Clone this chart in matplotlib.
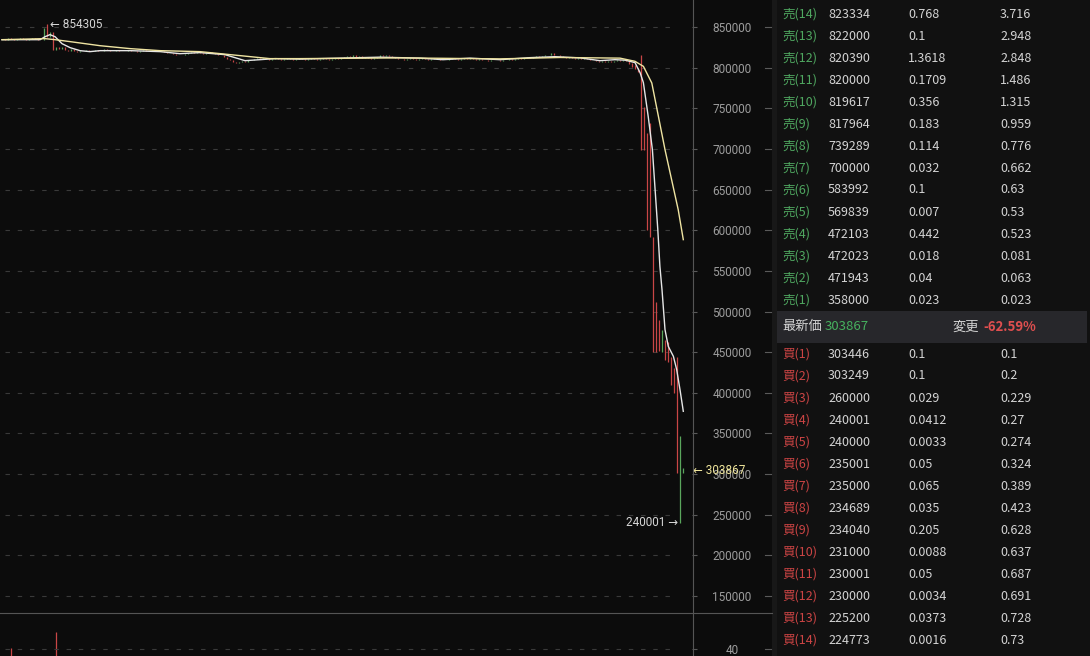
import numpy as np
import matplotlib.pyplot as plt
from matplotlib.lines import Line2D
from matplotlib.patches import Rectangle

W, H = 1090, 656

# closes in thousands, one candle per slot before the crash
flat_close = [835, 834, 836, 835, 834, 835, 837, 835, 834, 835, 836, 835, 834, 834, 849,
              838, 844, 822,
              826, 823, 825, 822, 820, 823, 821, 819, 821, 820, 822, 821,
              821, 822, 820, 821, 823, 822, 821, 820, 822, 821, 820, 821, 822, 821, 820, 819,
              821, 822, 820, 821, 822, 821, 820, 821, 819, 818,
              818, 817, 816, 815, 816, 817, 818, 819, 818, 819, 818, 817, 818, 819, 818, 817,
              816, 815, 813, 811, 809, 807, 806, 807, 808, 807, 809, 810, 811, 812, 811,
              812, 811, 810, 811, 812, 811, 810, 811, 812, 811, 810, 811, 812,
              811, 810, 811, 812, 811, 810, 811, 812, 811, 810, 811, 812, 811,
              812, 813, 814, 813, 815, 813, 814, 812, 813,
              812, 811, 812, 813, 815, 814, 816, 814, 813, 812, 811,
              811, 810, 811, 812, 811, 810, 811, 812, 811, 810, 811, 812, 811,
              810, 809, 810, 811, 812, 811, 810, 811, 812, 811, 812, 811, 810, 811, 810,
              809, 808, 809, 810, 809, 808, 809, 810, 811, 810,
              811, 812, 811, 812, 813, 812, 813, 814, 813, 814, 815, 816, 818, 816, 815, 814,
              813, 812, 813, 812, 811, 812, 811, 812, 811, 810,
              809, 808, 807, 808, 807, 808, 807, 808, 809, 808, 809, 808]
spike_idx = 15
spike_high = 854.305

# the crash candles (thousands)
crash_open = [808, 806, 803, 800, 800, 752, 720, 732, 592, 512, 490, 450, 465, 462, 444, 430, 444, 302, 301.7]
crash_close = [804, 801, 798, 795, 699, 699, 600, 592, 450.5, 450.6, 451, 477.7, 440, 438, 410, 400, 301.7, 346.4, 303.867]
crash_high = [808, 806, 803, 800, 816, 752, 720, 732, 592, 512, 490, 477.7, 465, 462, 444, 430, 444, 346.4, 307.8]
crash_low = [804, 801, 798, 795, 699, 699, 600, 592, 450.5, 450.6, 451, 450, 440, 438, 410, 400, 301.7, 240.001, 301.7]

# moving averages (candle index, thousands)
ma_fast_x = [0, 12.7, 14.3, 16, 17.7, 20, 22.7, 26, 29.3, 32.7, 42.7, 52.7, 59.3, 66, 74.3, 81, 86, 91,
             99.3, 112.7, 126, 139.3, 147, 156, 166, 176, 184.3, 192.7, 199.3, 204.3, 207.7, 211, 212.7,
             213.8, 215.4, 216.8, 217.7, 218.6, 219.3, 220, 221, 222.1, 223.8, 224.9, 226, 227.1]
ma_fast = [834.4, 834.4, 838, 840.6, 838, 829.5, 824.6, 820.9, 819.7, 820.9, 820.9, 819.7, 817.2, 818.5,
           816, 808.6, 809.8, 811.1, 810.5, 811.7, 812.9, 811.7, 809.8, 811.7, 809.8, 812.3, 813.5, 812,
           808.6, 809.8, 809.2, 806.2, 793.8, 781.5, 740, 699.1, 650, 600.7, 555.5, 526.9, 477.7, 457.1,
           444.8, 428.4, 403.8, 377.2]
ma_slow_x = [0, 14.3, 17.7, 22.7, 32.7, 42.7, 52.7, 66, 79.3, 89.3, 99.3, 132.7, 166, 186, 206, 211,
             213.8, 216.6, 218.8, 221, 223.2, 225.4, 227.1]
ma_slow = [834.4, 835.7, 834.4, 832, 827, 823.4, 820.9, 819.7, 814.8, 811.1, 811.1, 812, 810.8, 812.5,
           811.7, 807.8, 801.6, 781.1, 740.1, 699.1, 662.2, 625.3, 588.4]

vol_idx = [3, 18]
vol_val = [46, 138]

price_ticks = list(range(150000, 850001, 50000))

# order book
sell_level = list(range(14, 0, -1))
sell_price = [823334, 822000, 820390, 820000, 819617, 817964, 739289, 700000, 583992, 569839, 472103, 472023, 471943, 358000]
sell_amt = [0.768, 0.1, 1.3618, 0.1709, 0.356, 0.183, 0.114, 0.032, 0.1, 0.007, 0.442, 0.018, 0.04, 0.023]
sell_total = [3.716, 2.948, 2.848, 1.486, 1.315, 0.959, 0.776, 0.662, 0.63, 0.53, 0.523, 0.081, 0.063, 0.023]
buy_level = list(range(1, 15))
buy_price = [303446, 303249, 260000, 240001, 240000, 235001, 235000, 234689, 234040, 231000, 230001, 230000, 225200, 224773]
buy_amt = [0.1, 0.1, 0.029, 0.0412, 0.0033, 0.05, 0.065, 0.035, 0.205, 0.0088, 0.05, 0.0034, 0.0373, 0.0016]
buy_total = [0.1, 0.2, 0.229, 0.27, 0.274, 0.324, 0.389, 0.423, 0.628, 0.637, 0.687, 0.691, 0.728, 0.73]
last_price = 303867
change_pct = -62.59

BG = '#0c0c0c'
RED = '#c94646'
GREEN = '#5aa65c'
GRID = '#3a3a3a'
CJK = ['Noto Sans CJK JP', 'DejaVu Sans']
NUM = ['Roboto', 'DejaVu Sans']

fig = plt.figure(figsize=(W / 100, H / 100), dpi=100, facecolor=BG)

def fx(x):
    return x / W

def fy(y):
    return 1 - y / H

# ---- price pane
ax = fig.add_axes([0, fy(612), fx(692), (612) / H], facecolor=BG)
ax.set_xlim(-2 / 3, 230)
ax.set_ylim(130315, 883219)

opens = [flat_close[0]] + flat_close[:-1] + crash_open
closes = flat_close + crash_close
highs = [max(o, c) for o, c in zip(opens[:len(flat_close)], flat_close)] + crash_high
lows = [min(o, c) for o, c in zip(opens[:len(flat_close)], flat_close)] + crash_low
highs[spike_idx] = spike_high
xs = np.arange(len(closes))
cols = [GREEN if c >= o else RED for o, c in zip(opens, closes)]
ax.vlines(xs, np.array(lows) * 1000, np.array(highs) * 1000, colors=cols, lw=0.9, zorder=3)

ax.plot(ma_fast_x, np.array(ma_fast) * 1000, color='#e6e6e6', lw=1.0, zorder=4)
ax.plot(ma_slow_x, np.array(ma_slow) * 1000, color='#efe4a2', lw=1.0, zorder=5)

for v in price_ticks:
    ax.axhline(v, xmin=5 / 692, xmax=672 / 692, color=GRID, lw=0.8, dashes=(4, 7), zorder=1)
    ax.plot([1.106, 1.114], [v, v], transform=ax.get_yaxis_transform(), clip_on=False,
            color='#5a5a5a', lw=0.8)

ax.yaxis.tick_right()
ax.set_yticks(price_ticks)
ax.set_yticklabels([str(v) for v in price_ticks])
ax.tick_params(axis='y', length=3.6, width=0.8, color='#5a5a5a', pad=25.2,
               labelsize=8.5, labelcolor='#9c9c9c')
plt.setp(ax.get_yticklabels(), ha='center', family=NUM)
ax.set_xticks([])
for s in ax.spines.values():
    s.set_visible(False)

ax.annotate('← 854305', xy=(spike_idx, spike_high * 1000), xytext=(2.2, -1), textcoords='offset points',
            ha='left', va='center', fontsize=8.5, color='#d6d6d6', family=NUM)
ax.annotate('240001 →', xy=(len(closes) - 2, crash_low[-2] * 1000), xytext=(-1.5, 0),
            textcoords='offset points', ha='right', va='center', fontsize=8.5, color='#d6d6d6', family=NUM)
ax.annotate('← ' + str(last_price), xy=(1.0, last_price), xycoords=('axes fraction', 'data'),
            xytext=(0.8, 0), textcoords='offset points', ha='left', va='center', fontsize=8.5,
            color='#eee49a', family=NUM, annotation_clip=False, zorder=6)

# ---- volume pane
ax2 = fig.add_axes([0, 0, fx(692), 44 / H], facecolor=BG)
ax2.set_xlim(-2 / 3, 230)
ax2.set_ylim(0, 251)
ax2.vlines(vol_idx, 0, vol_val, colors=RED, lw=0.9)
ax2.axhline(40, xmin=5 / 692, xmax=672 / 692, color=GRID, lw=0.8, dashes=(4, 7))
ax2.plot([1.106, 1.114], [40, 40], transform=ax2.get_yaxis_transform(), clip_on=False,
         color='#5a5a5a', lw=0.8)
ax2.yaxis.tick_right()
ax2.set_yticks([40])
ax2.set_yticklabels(['40'])
ax2.tick_params(axis='y', length=3.6, width=0.8, color='#5a5a5a', pad=25.2,
                labelsize=8.5, labelcolor='#9c9c9c')
plt.setp(ax2.get_yticklabels(), ha='center', family=NUM)
ax2.set_xticks([])
for s in ax2.spines.values():
    s.set_visible(False)

# ---- separators and order book panel
fig.add_artist(Rectangle((fx(772), 0), fx(W - 772), 1, transform=fig.transFigure,
                         facecolor='#181818', edgecolor='none', zorder=0))
fig.add_artist(Rectangle((fx(777), 0), fx(W - 777), 1, transform=fig.transFigure,
                         facecolor='#111111', edgecolor='none', zorder=0))
fig.add_artist(Rectangle((fx(777), fy(343)), fx(1087 - 777), (343 - 311) / H, transform=fig.transFigure,
                         facecolor='#27272b', edgecolor='none', zorder=0))
fig.add_artist(Line2D([fx(692.5), fx(692.5)], [0, 1], color='#555555', lw=0.8))
fig.add_artist(Line2D([0, fx(772)], [fy(612.5), fy(612.5)], color='#555555', lw=0.8))

def book_row(y, label, lab_col, price, amt, total):
    fig.text(fx(782), fy(y), label, color=lab_col, fontsize=9, family=CJK, va='center')
    fig.text(fx(828), fy(y), str(price), color='#d4d4d4', fontsize=9, family=CJK, va='center')
    fig.text(fx(908), fy(y), str(amt), color='#d4d4d4', fontsize=9, family=CJK, va='center')
    fig.text(fx(1000), fy(y), str(total), color='#d4d4d4', fontsize=9, family=CJK, va='center')

for k in range(14):
    book_row(14 + 22 * k, '売(%d)' % sell_level[k], '#4fa760', sell_price[k], sell_amt[k], sell_total[k])
    book_row(354 + 22 * k, '買(%d)' % buy_level[k], '#cc4444', buy_price[k], buy_amt[k], buy_total[k])

fig.text(fx(782), fy(326), '最新価', color='#d4d4d4', fontsize=9.5, family=CJK, va='center')
fig.text(fx(825), fy(326), str(last_price), color='#46b05e', fontsize=9.5, family=CJK, va='center')
fig.text(fx(952), fy(327), '変更', color='#d4d4d4', fontsize=9.5, family=CJK, va='center')
fig.text(fx(983), fy(327), '%.2f%%' % change_pct, color='#e04f4f', fontsize=9.5, family=CJK,
         va='center', fontweight='bold')

fig.savefig('out.png', dpi=100, facecolor=BG)
